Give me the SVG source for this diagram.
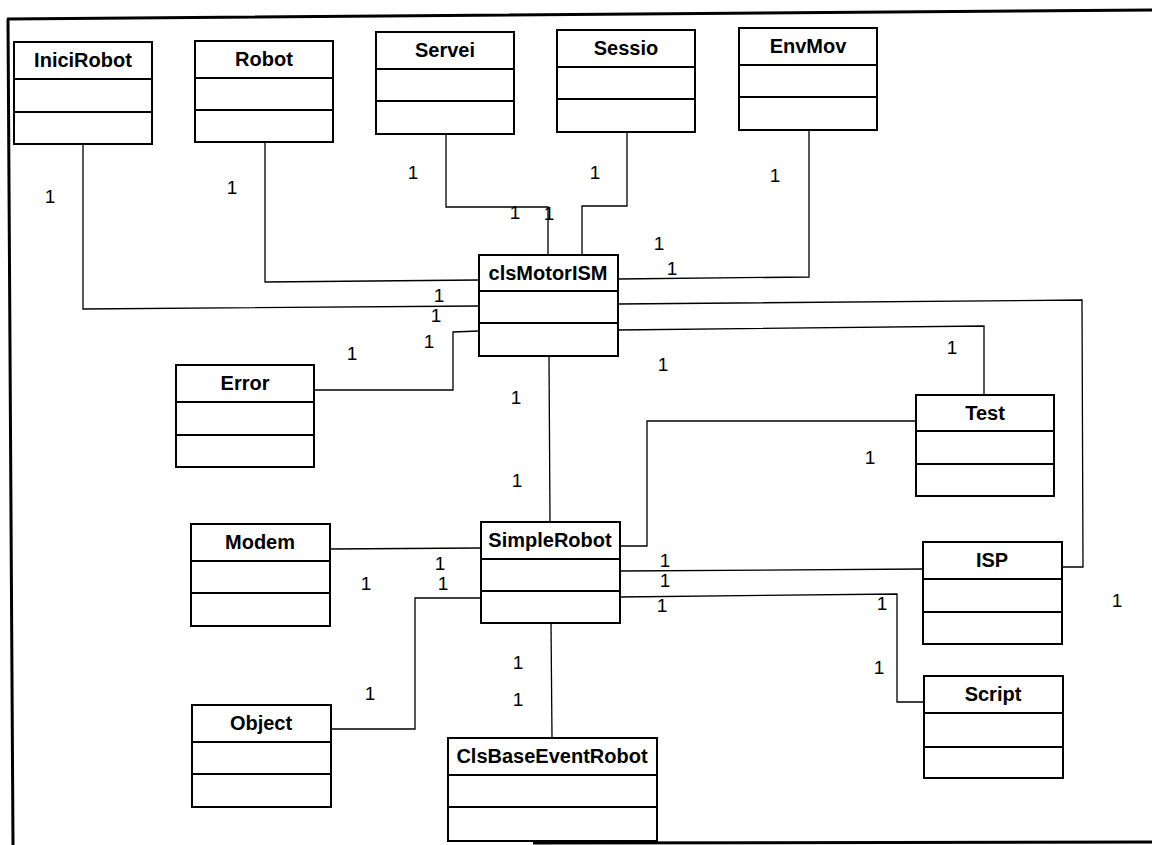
<svg xmlns="http://www.w3.org/2000/svg" width="1152" height="845" viewBox="0 0 1152 845">
<style>
.box{fill:#fff;stroke:#000;stroke-width:2}
.div{stroke:#000;stroke-width:2}
.t{font-family:"Liberation Sans",Arial,sans-serif;font-weight:bold;font-size:20px;text-anchor:middle;fill:#000}
.c{fill:none;stroke:#000;stroke-width:1.3}
.m{font-family:"Liberation Sans",Arial,sans-serif;font-size:19px;text-anchor:middle;fill:#000}
.f{fill:none;stroke:#000;stroke-width:3}
</style>
<rect width="1152" height="845" fill="#fff"/>
<g id="frame">
<path class="f" d="M7,19 L1152,10 M8,19 L13,845 M533,843 L1152,842"/>
</g>
<g id="connectors">
<path class="c" d="M83,144 L83,309 L479,306"/>
<path class="c" d="M265,142 L265,282 L479,280"/>
<path class="c" d="M446,134 L446,207 L548,207 L548,255"/>
<path class="c" d="M627,132 L627,206 L582,206 L582,255"/>
<path class="c" d="M809,130 L809,277 L618,279"/>
<path class="c" d="M618,304 L1082,300 L1083,567 L1062,567"/>
<path class="c" d="M618,330 L984,326 L984,395"/>
<path class="c" d="M314,390 L453,390 L453,332 L479,331"/>
<path class="c" d="M549,356 L550,522"/>
<path class="c" d="M916,421 L647,421 L647,546 L620,546"/>
<path class="c" d="M330,549 L481,548"/>
<path class="c" d="M331,729 L415,729 L415,598 L481,598"/>
<path class="c" d="M620,571 L923,569"/>
<path class="c" d="M620,597 L897,594 L897,702 L924,702"/>
<path class="c" d="M551,623 L552,738"/>
</g>
<g id="labels">
<text class="m" x="50" y="203">1</text>
<text class="m" x="232" y="194">1</text>
<text class="m" x="413" y="179">1</text>
<text class="m" x="595" y="179">1</text>
<text class="m" x="775" y="182">1</text>
<text class="m" x="515" y="219">1</text>
<text class="m" x="549" y="220">1</text>
<text class="m" x="659" y="250">1</text>
<text class="m" x="672" y="275">1</text>
<text class="m" x="439" y="302">1</text>
<text class="m" x="436" y="322">1</text>
<text class="m" x="429" y="348">1</text>
<text class="m" x="352" y="360">1</text>
<text class="m" x="663" y="371">1</text>
<text class="m" x="952" y="354">1</text>
<text class="m" x="516" y="404">1</text>
<text class="m" x="870" y="464">1</text>
<text class="m" x="517" y="487">1</text>
<text class="m" x="440" y="570">1</text>
<text class="m" x="366" y="590">1</text>
<text class="m" x="443" y="590">1</text>
<text class="m" x="665" y="567">1</text>
<text class="m" x="665" y="587">1</text>
<text class="m" x="662" y="612">1</text>
<text class="m" x="882" y="610">1</text>
<text class="m" x="1117" y="607">1</text>
<text class="m" x="879" y="674">1</text>
<text class="m" x="370" y="700">1</text>
<text class="m" x="518" y="669">1</text>
<text class="m" x="518" y="706">1</text>
</g>
<g id="IniciRobot"><rect class="box" x="14" y="42" width="138" height="102"/><path class="div" d="M14,79H152M14,112H152"/><text class="t" x="83" y="67">IniciRobot</text></g>
<g id="Robot"><rect class="box" x="195" y="41" width="138" height="101"/><path class="div" d="M195,78H333M195,110H333"/><text class="t" x="264" y="66">Robot</text></g>
<g id="Servei"><rect class="box" x="376" y="32" width="138" height="102"/><path class="div" d="M376,69H514M376,101H514"/><text class="t" x="445" y="57">Servei</text></g>
<g id="Sessio"><rect class="box" x="557" y="30" width="138" height="102"/><path class="div" d="M557,67H695M557,99H695"/><text class="t" x="626" y="55">Sessio</text></g>
<g id="EnvMov"><rect class="box" x="739" y="28" width="138" height="102"/><path class="div" d="M739,65H877M739,97H877"/><text class="t" x="808" y="53">EnvMov</text></g>
<g id="clsMotorISM"><rect class="box" x="479" y="255" width="139" height="101"/><path class="div" d="M479,291H618M479,323H618"/><text class="t" x="548" y="280">clsMotorISM</text></g>
<g id="Error"><rect class="box" x="176" y="365" width="138" height="102"/><path class="div" d="M176,402H314M176,435H314"/><text class="t" x="245" y="390">Error</text></g>
<g id="Test"><rect class="box" x="916" y="395" width="138" height="101"/><path class="div" d="M916,431H1054M916,464H1054"/><text class="t" x="985" y="420">Test</text></g>
<g id="Modem"><rect class="box" x="191" y="524" width="139" height="102"/><path class="div" d="M191,561H330M191,593H330"/><text class="t" x="260" y="549">Modem</text></g>
<g id="SimpleRobot"><rect class="box" x="481" y="522" width="139" height="101"/><path class="div" d="M481,559H620M481,591H620"/><text class="t" x="550" y="547">SimpleRobot</text></g>
<g id="ISP"><rect class="box" x="923" y="542" width="139" height="102"/><path class="div" d="M923,579H1062M923,612H1062"/><text class="t" x="992" y="567">ISP</text></g>
<g id="Object"><rect class="box" x="192" y="705" width="139" height="102"/><path class="div" d="M192,742H331M192,774H331"/><text class="t" x="261" y="730">Object</text></g>
<g id="Script"><rect class="box" x="924" y="676" width="139" height="102"/><path class="div" d="M924,713H1063M924,747H1063"/><text class="t" x="993" y="701">Script</text></g>
<g id="ClsBaseEventRobot"><rect class="box" x="448" y="738" width="209" height="103"/><path class="div" d="M448,775H657M448,807H657"/><text class="t" x="552" y="763">ClsBaseEventRobot</text></g>
</svg>
